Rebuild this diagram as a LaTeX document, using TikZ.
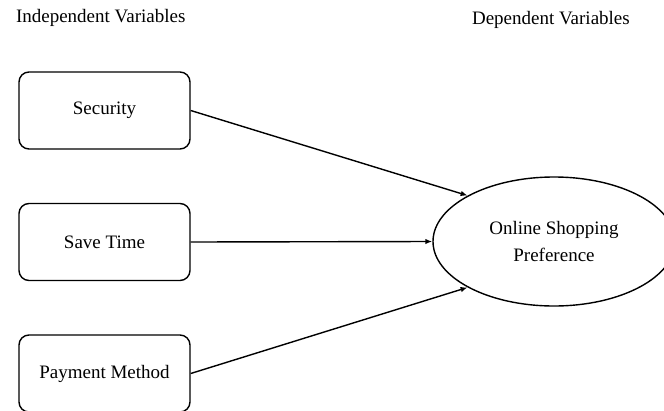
\documentclass[tikz,border=0pt]{standalone}
\usepackage{fontspec}
\setmainfont{Liberation Serif}
\usepackage{tikz}
\usetikzlibrary{arrows.meta, shapes, positioning, calc}

\begin{document}
\begin{tikzpicture}[x=1pt, y=-1pt, >={Latex[length=7pt, width=5.5pt]}, line width=1.4pt,
    varbox/.style={draw, rounded corners=10pt, minimum width=171pt, minimum height=77pt, inner sep=0pt},
    depvar/.style={draw, ellipse, minimum width=242pt, minimum height=129pt, inner sep=0pt, align=center}]
    \useasboundingbox (0,0) rectangle (664,410);
    \fontsize{19}{23}\selectfont
    
    % Column headings
    \node[right] (indep) at (9,18) {Independent Variables};
    \node[right] (dep) at (465,20) {Dependent Variables};
    
    % Draw the independent variables
    \foreach \name/\label/\y in {sec/Security/110.5, time/Save Time/242, pay/Payment Method/373.5} {
        \node[varbox] (\name) at (104.5,\y) {\label};
    }
    
    % Draw the dependent variable
    \node[depvar] (pref) at (554,241.5) {Online Shopping\\[4pt]Preference};
    
    % Add arrows
    \draw[->] (sec.east) -- (pref.152);
    \draw[->] (time.east) -- (pref.west);
    \draw[->] (pay.east) -- (pref.208);
\end{tikzpicture}
\end{document}
